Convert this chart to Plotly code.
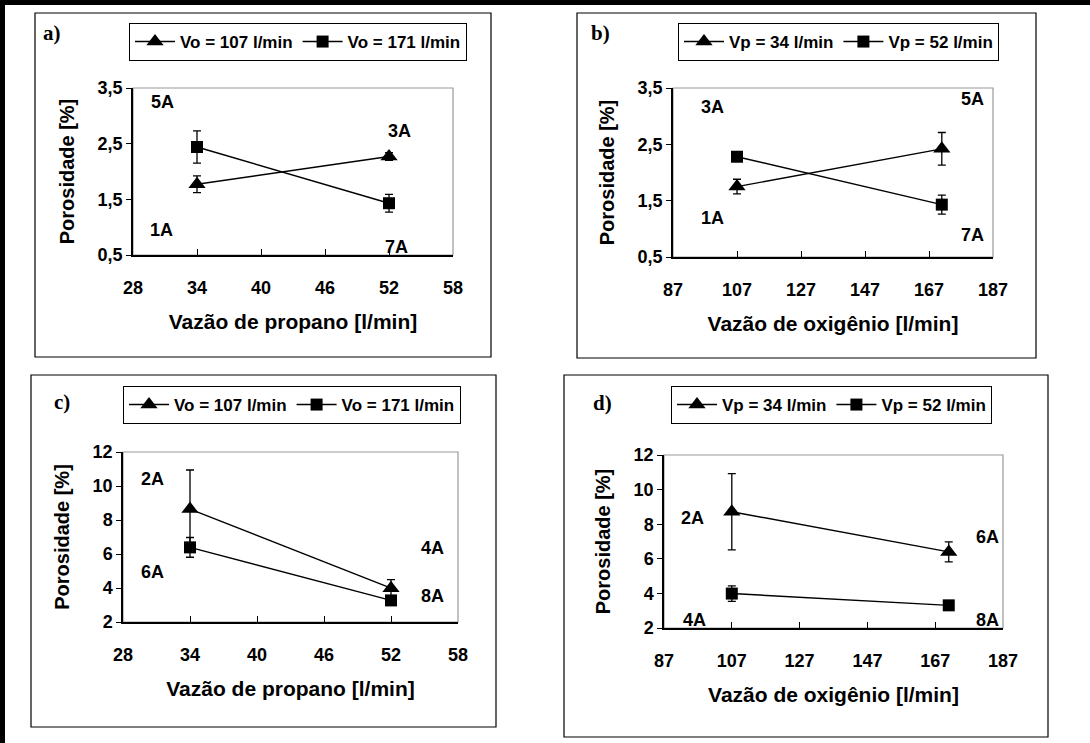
import plotly.graph_objects as go

# ---------------- data ----------------
a_x = [34, 52]
a_tri_y = [1.77, 2.27]
a_tri_err = [0.15, 0.07]
a_sq_y = [2.44, 1.43]
a_sq_err = [0.29, 0.16]
a_labels = ["5A", "3A", "1A", "7A"]
a_lab_x = [30.8, 53.0, 30.7, 52.7]
a_lab_y = [3.25, 2.73, 0.95, 0.64]

b_x = [107, 171]
b_tri_y = [1.75, 2.42]
b_tri_err = [0.13, 0.29]
b_sq_y = [2.28, 1.43]
b_sq_err = [0.03, 0.17]
b_labels = ["3A", "5A", "1A", "7A"]
b_lab_x = [99.2, 180.7, 99.2, 180.7]
b_lab_y = [3.16, 3.30, 1.19, 0.89]

c_x = [34, 52]
c_tri_y = [8.64, 3.99]
c_tri_err = [2.3, 0.5]
c_sq_y = [6.39, 3.27]
c_sq_err = [0.58, 0.15]
c_labels = ["2A", "6A", "4A", "8A"]
c_lab_x = [30.6, 30.6, 55.7, 55.7]
c_lab_y = [10.44, 4.93, 6.33, 3.52]

d_x = [107, 171]
d_tri_y = [8.72, 6.40]
d_tri_err = [2.2, 0.58]
d_sq_y = [3.99, 3.31]
d_sq_err = [0.45, 0.15]
d_labels = ["2A", "6A", "4A", "8A"]
d_lab_x = [95.3, 182.3, 96.1, 182.3]
d_lab_y = [8.36, 7.26, 2.46, 2.46]

names_o = ["Vo = 107 l/min", "Vo = 171 l/min"]
names_p = ["Vp = 34 l/min", "Vp = 52 l/min"]

xt_prop = [28, 34, 40, 46, 52, 58]
xt_oxy = [87, 107, 127, 147, 167, 187]
yt_small = [0.5, 1.5, 2.5, 3.5]
yt_small_txt = ["0,5", "1,5", "2,5", "3,5"]
yt_big = [2, 4, 6, 8, 10, 12]

xtitle_prop = "Vazão de propano [l/min]"
xtitle_oxy = "Vazão de oxigênio [l/min]"
ytitle = "Porosidade [%]"
panel_tags = ["a)", "b)", "c)", "d)"]

W, H = 1090, 743
def px(v):
    return v / W
def py(v):
    return 1 - v / H

FONT = "Liberation Sans, Arial, sans-serif"
SERIF = "Liberation Serif, Times New Roman, serif"

panels = [
    dict(x=a_x, ty=a_tri_y, te=a_tri_err, sy=a_sq_y, se=a_sq_err, names=names_o,
         labs=a_labels, lx=a_lab_x, ly=a_lab_y, xr=[28, 58], xt=xt_prop, xtitle=xtitle_prop,
         yr=[0.5, 3.5], yt=yt_small, ytt=yt_small_txt,
         dom_x=[133, 453], dom_y=[88, 255], box=[35, 13, 491, 357], leg=[129, 23], tag=[52, 33]),
    dict(x=b_x, ty=b_tri_y, te=b_tri_err, sy=b_sq_y, se=b_sq_err, names=names_p,
         labs=b_labels, lx=b_lab_x, ly=b_lab_y, xr=[87, 187], xt=xt_oxy, xtitle=xtitle_oxy,
         yr=[0.5, 3.5], yt=yt_small, ytt=yt_small_txt,
         dom_x=[673, 993], dom_y=[88, 257], box=[577, 13, 1036, 358], leg=[678, 23], tag=[600, 33]),
    dict(x=c_x, ty=c_tri_y, te=c_tri_err, sy=c_sq_y, se=c_sq_err, names=names_o,
         labs=c_labels, lx=c_lab_x, ly=c_lab_y, xr=[28, 58], xt=xt_prop, xtitle=xtitle_prop,
         yr=[2, 12], yt=yt_big, ytt=[str(v) for v in yt_big],
         dom_x=[123, 458], dom_y=[452, 622], box=[31, 375, 496, 727], leg=[123, 386], tag=[62, 402]),
    dict(x=d_x, ty=d_tri_y, te=d_tri_err, sy=d_sq_y, se=d_sq_err, names=names_p,
         labs=d_labels, lx=d_lab_x, ly=d_lab_y, xr=[87, 187], xt=xt_oxy, xtitle=xtitle_oxy,
         yr=[2, 12], yt=yt_big, ytt=[str(v) for v in yt_big],
         dom_x=[664, 1003], dom_y=[455, 628], box=[564, 375, 1048, 737], leg=[671, 386], tag=[603, 403]),
]

fig = go.Figure()
shapes = []
annotations = []
layout_upd = {}

for i, p in enumerate(panels):
    n = i + 1
    xa = "x" if n == 1 else f"x{n}"
    ya = "y" if n == 1 else f"y{n}"
    leg = "legend" if n == 1 else f"legend{n}"
    err_common = dict(type="data", color="black", thickness=1.3, width=4, visible=True)
    fig.add_trace(go.Scatter(
        x=p["x"], y=p["ty"], mode="lines+markers", name=p["names"][0],
        line=dict(color="black", width=1.4),
        marker=dict(symbol="triangle-up", size=15, color="black"),
        error_y=dict(array=p["te"], **err_common),
        xaxis=xa, yaxis=ya, legend=leg, showlegend=True))
    fig.add_trace(go.Scatter(
        x=p["x"], y=p["sy"], mode="lines+markers", name=p["names"][1],
        line=dict(color="black", width=1.4),
        marker=dict(symbol="square", size=12, color="black"),
        error_y=dict(array=p["se"], **err_common),
        xaxis=xa, yaxis=ya, legend=leg, showlegend=True))

    xkey = "xaxis" if n == 1 else f"xaxis{n}"
    ykey = "yaxis" if n == 1 else f"yaxis{n}"
    layout_upd[xkey] = dict(
        domain=[px(p["dom_x"][0]), px(p["dom_x"][1])], anchor=ya, range=p["xr"],
        tickvals=p["xt"], ticks="inside", ticklen=6, tickcolor="black", tickwidth=1,
        showline=True, linecolor="black", linewidth=1.5, showgrid=False, zeroline=False,
        automargin=False,
        tickfont=dict(family=FONT, size=18, color="black", weight="bold"),
        ticklabelstandoff=16,
        title=dict(text=p["xtitle"], standoff=17,
                   font=dict(family=FONT, size=21, color="black", weight="bold")))
    layout_upd[ykey] = dict(
        domain=[py(p["dom_y"][1]), py(p["dom_y"][0])], anchor=xa, range=p["yr"],
        tickvals=p["yt"], ticktext=p["ytt"], ticks="outside", ticklen=5, tickcolor="black",
        tickwidth=1, showline=True, linecolor="black", linewidth=1.5, showgrid=False,
        zeroline=False, automargin=False,
        tickfont=dict(family=FONT, size=18, color="black", weight="bold"),
        title=dict(text=ytitle, standoff=18,
                   font=dict(family=FONT, size=20, color="black", weight="bold")))
    layout_upd[leg] = dict(
        x=px(p["leg"][0]), y=py(p["leg"][1]), xanchor="left", yanchor="top",
        orientation="h", bordercolor="black", borderwidth=1, bgcolor="white",
        font=dict(family=FONT, size=17, color="black", weight="bold"),
        itemwidth=40, tracegroupgap=0)

    shapes.append(dict(type="rect", xref=f"{xa} domain", yref=f"{ya} domain",
                       x0=0, x1=1, y0=0, y1=1, line=dict(color="#9a9a9a", width=1.2),
                       layer="below"))
    b = p["box"]
    shapes.append(dict(type="rect", xref="paper", yref="paper",
                       x0=px(b[0]), x1=px(b[2]), y0=py(b[3]), y1=py(b[1]),
                       line=dict(color="black", width=1.2), layer="below"))
    annotations.append(dict(text=panel_tags[i], xref="paper", yref="paper",
                            x=px(p["tag"][0]), y=py(p["tag"][1]), showarrow=False,
                            xanchor="center", yanchor="middle",
                            font=dict(family=SERIF, size=21, color="black", weight="bold")))
    for t, lx, ly in zip(p["labs"], p["lx"], p["ly"]):
        annotations.append(dict(text=t, x=lx, y=ly, xref=xa, yref=ya, showarrow=False,
                                xanchor="center", yanchor="middle",
                                font=dict(family=FONT, size=18, color="black", weight="bold")))

# thick outer border (top and left) as filled bands
shapes.append(dict(type="rect", xref="paper", yref="paper", x0=0, x1=1,
                   y0=py(5), y1=1, fillcolor="black", line=dict(width=0), layer="above"))
shapes.append(dict(type="rect", xref="paper", yref="paper", x0=0, x1=px(5),
                   y0=0, y1=1, fillcolor="black", line=dict(width=0), layer="above"))

fig.update_layout(
    width=W, height=H, margin=dict(l=0, r=0, t=0, b=0, pad=0, autoexpand=False),
    paper_bgcolor="white", plot_bgcolor="white",
    shapes=shapes, annotations=annotations,
    font=dict(family=FONT, color="black"),
    **layout_upd)

fig.write_html("out.html", config={"displayModeBar": False},
               post_script="document.body.style.margin='0';document.body.style.padding='0';")
